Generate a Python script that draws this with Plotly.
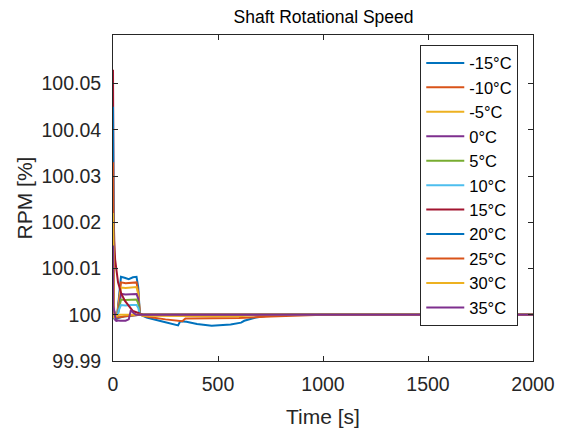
import plotly.graph_objects as go

labels = ["-15°C", "-10°C", "-5°C", "0°C", "5°C", "10°C", "15°C", "20°C", "25°C", "30°C", "35°C"]
colors = ["#0072BD", "#D95319", "#EDB120", "#7E2F8E", "#77AC30", "#4DBEEE",
          "#A2142F", "#0072BD", "#D95319", "#EDB120", "#7E2F8E"]

t_m15 = [0, 8, 18, 28, 38, 55, 75, 95, 112, 120, 128, 140, 160, 240, 300, 310, 320, 350, 400, 470, 560, 610, 625, 680, 750, 850, 2000]
v_m15 = [100.0, 99.9993, 99.9990, 100.004, 100.0082, 100.0080, 100.0077, 100.0081, 100.0082, 100.006, 100.0002, 99.9998, 99.9994,
         99.9985, 99.9979, 99.9977, 99.9986, 99.9985, 99.9980, 99.9976, 99.9979, 99.9983, 99.9987, 99.9994, 99.9999, 100.0, 100.0]

t_m10 = [0, 8, 18, 28, 38, 60, 90, 112, 120, 128, 140, 170, 250, 330, 345, 450, 600, 750, 900, 1000, 2000]
v_m10 = [100.0, 99.9994, 99.9991, 100.0035, 100.0070, 100.0068, 100.0069, 100.0070, 100.005, 100.0002, 99.9998,
         99.9995, 99.9990, 99.9986, 99.9992, 99.9992, 99.9993, 99.9996, 99.9999, 100.0, 100.0]

t_m5 = [0, 8, 18, 28, 38, 60, 90, 112, 120, 128, 140, 400, 600, 700, 2000]
v_m5 = [100.0, 99.9993, 99.9990, 100.003, 100.0059, 100.0058, 100.0059, 100.0060, 100.0045, 100.0002, 99.9998,
        99.9997, 99.9997, 100.0, 100.0]

t_0 = [0, 8, 18, 28, 38, 60, 90, 112, 120, 128, 140, 2000]
v_0 = [100.0, 99.9990, 99.9986, 100.002, 100.0045, 100.0044, 100.0045, 100.0045, 100.0035, 100.0002, 100.0, 100.0]

t_5 = [0, 8, 18, 28, 38, 60, 90, 112, 120, 128, 140, 2000]
v_5 = [100.0, 99.9992, 99.9990, 100.0015, 100.0033, 100.0032, 100.0033, 100.0033, 100.0025, 100.0002, 100.0, 100.0]

t_10 = [0, 8, 18, 28, 38, 60, 90, 112, 120, 128, 140, 2000]
v_10 = [100.0, 99.9993, 99.9991, 100.001, 100.0021, 100.0020, 100.0021, 100.0021, 100.0015, 100.0001, 100.0, 100.0]

t_15 = [0, 1, 3, 6, 10, 24, 40, 57, 95, 143, 2000]
v_15 = [100.053, 100.035, 100.022, 100.016, 100.012, 100.007, 100.0045, 100.003, 100.0008, 100.0, 100.0]

t_20 = [0, 2, 5, 12, 25, 60, 130, 2000]
v_20 = [100.045, 100.010, 100.001, 99.9994, 99.9993, 99.9997, 100.0, 100.0]

t_25 = [0, 2, 5, 12, 25, 60, 130, 2000]
v_25 = [100.033, 100.008, 100.001, 99.9995, 99.9994, 99.9997, 100.0, 100.0]

t_30 = [0, 2, 5, 12, 30, 2000]
v_30 = [100.022, 100.003, 99.9995, 99.9995, 100.0, 100.0]

t_35 = [0, 2, 8, 15, 35, 60, 75, 85, 95, 110, 2000]
v_35 = [100.015, 100.002, 100.0, 99.9988, 99.9987, 99.9987, 99.9990, 100.0010, 100.0005, 100.0, 100.0]

times = [t_m15, t_m10, t_m5, t_0, t_5, t_10, t_15, t_20, t_25, t_30, t_35]
values = [v_m15, v_m10, v_m5, v_0, v_5, v_10, v_15, v_20, v_25, v_30, v_35]

x_ticks = [0, 500, 1000, 1500, 2000]
y_ticks = [99.99, 100.0, 100.01, 100.02, 100.03, 100.04, 100.05]
y_ticktext = ["99.99", "100", "100.01", "100.02", "100.03", "100.04", "100.05"]

FONT = "Liberation Sans, Arial, sans-serif"
INK = "#262626"

fig = go.Figure()
for lab, col, t, v in zip(labels, colors, times, values):
    fig.add_trace(go.Scatter(x=t, y=v, mode="lines", name=lab,
                             line=dict(color=col, width=2)))

axis_common = dict(showline=True, mirror="ticks", linecolor=INK, linewidth=1,
                   ticks="inside", ticklen=5, tickcolor=INK, showgrid=False,
                   zeroline=False, tickfont=dict(family=FONT, size=19.5, color=INK))

fig.update_layout(
    width=567, height=436,
    margin=dict(l=113, r=33, t=35, b=64),
    paper_bgcolor="white", plot_bgcolor="white",
    title=dict(text="Shaft Rotational Speed", x=(113 + 534) / 2 / 567, xanchor="center",
               y=1 - 17 / 436, yanchor="middle",
               font=dict(family=FONT, size=17.5, color="black")),
    xaxis=dict(range=[0, 2000], tickvals=x_ticks, ticklabelstandoff=6,
               title=dict(text="Time [s]", font=dict(family=FONT, size=21, color=INK), standoff=14),
               **axis_common),
    yaxis=dict(range=[99.99, 100.0605], tickvals=y_ticks, ticktext=y_ticktext, ticklabelstandoff=7,
               title=dict(text="RPM [%]", font=dict(family=FONT, size=21, color=INK), standoff=3),
               **axis_common),
    legend=dict(x=(421 - 113) / 421, y=1 - (45 - 35) / 337, xanchor="left", yanchor="top",
                bgcolor="white", bordercolor=INK, borderwidth=1, itemwidth=38,
                font=dict(family=FONT, size=16.5, color="black"), tracegroupgap=0),
    showlegend=True,
)

fig.write_html("out.html", post_script="document.body.style.margin='0px';",
               config={"displayModeBar": False})
